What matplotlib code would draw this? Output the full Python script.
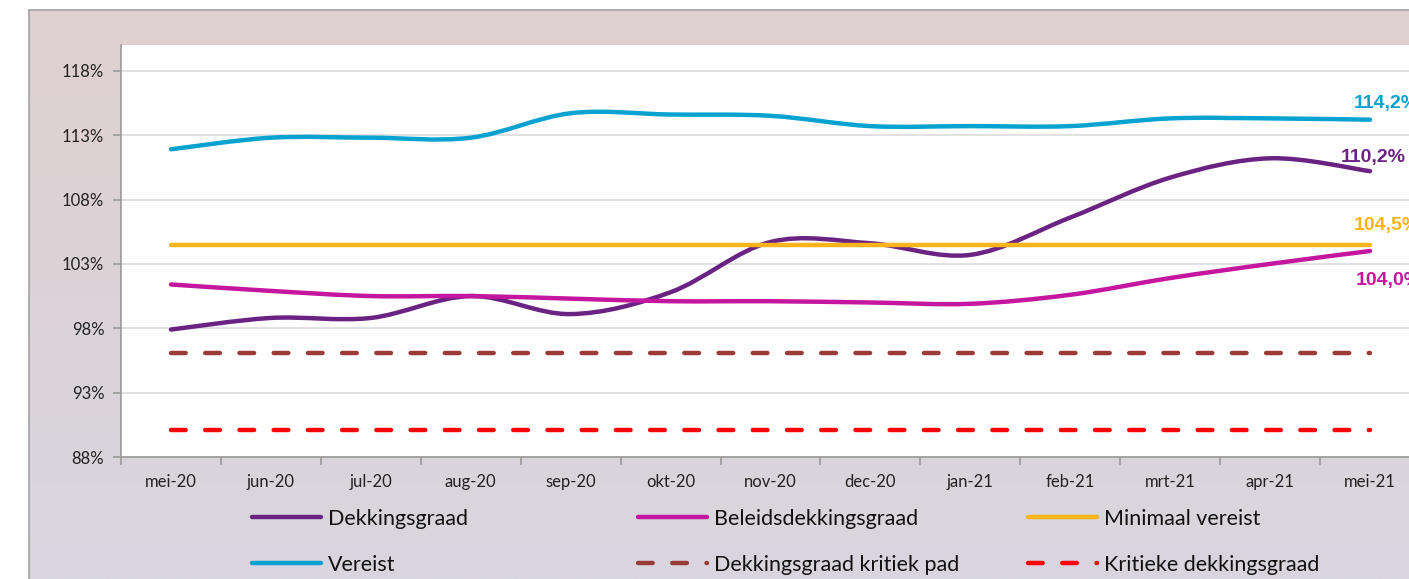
import numpy as np
import matplotlib
matplotlib.use("Agg")
import matplotlib.pyplot as plt
from matplotlib.path import Path
from matplotlib.patches import PathPatch
from matplotlib.lines import Line2D
from matplotlib.colors import LinearSegmentedColormap

# --- Data ---
months = ['mei-20', 'jun-20', 'jul-20', 'aug-20', 'sep-20', 'okt-20', 'nov-20',
          'dec-20', 'jan-21', 'feb-21', 'mrt-21', 'apr-21', 'mei-21']
dekkingsgraad = [97.9, 98.8, 98.8, 100.5, 99.1, 100.8, 104.7, 104.6, 103.7, 106.6, 109.7, 111.2, 110.2]
beleidsdekkingsgraad = [101.4, 100.9, 100.5, 100.5, 100.3, 100.1, 100.1, 100.0, 99.9, 100.6, 101.9, 103.0, 104.0]
minimaal_vereist = [104.5] * 13
vereist = [111.9, 112.8, 112.8, 112.8, 114.7, 114.6, 114.5, 113.7, 113.7, 113.7, 114.3, 114.3, 114.2]
kritiek_pad = [96.1] * 13
kritieke_dg = [90.1] * 13

C_DG = '#6b2383'
C_BDG = '#c4169f'
C_MIN = '#fbb41a'
C_VER = '#0aa2d1'
C_PAD = '#9b3b38'
C_KRIT = '#fe0000'

LW = 3.2
DASH = (0, (3.3, 4.4))


def smooth_path(xs, ys):
    """Cubic bezier path through every point (Excel style smoothing)."""
    pts = np.column_stack([xs, ys]).astype(float)
    n = len(pts)
    verts = [pts[0]]
    codes = [Path.MOVETO]
    for i in range(n - 1):
        p0 = pts[i - 1] if i > 0 else pts[i]
        p1 = pts[i]
        p2 = pts[i + 1]
        p3 = pts[i + 2] if i + 2 < n else pts[i + 1]
        c1 = p1 + (p2 - p0) / 6.0
        c2 = p2 - (p3 - p1) / 6.0
        verts += [c1, c2, p2]
        codes += [Path.CURVE4] * 3
    return Path(verts, codes)


fig = plt.figure(figsize=(14.09, 5.79), dpi=100)
fig.patch.set_facecolor('white')

# background panel with soft vertical gradient
bg = fig.add_axes([29 / 1409, 0, 1, 569 / 579])
grad = LinearSegmentedColormap.from_list('bg', ['#dfd0d0', '#d8d6df'])
bg.imshow(np.linspace(0, 1, 256).reshape(-1, 1), aspect='auto', cmap=grad,
          extent=[0, 1, 0, 1])
bg.set_xticks([])
bg.set_yticks([])
for side in ['right', 'bottom']:
    bg.spines[side].set_visible(False)
for side in ['left', 'top']:
    bg.spines[side].set_color('#a3a3a3')
    bg.spines[side].set_linewidth(1.2)

ax = fig.add_axes([121 / 1409, (579 - 457) / 579, 1299 / 1409, 412 / 579])
ax.set_facecolor('white')
x = np.arange(len(months))

for ys, col in [(vereist, C_VER), (dekkingsgraad, C_DG), (beleidsdekkingsgraad, C_BDG)]:
    ax.add_patch(PathPatch(smooth_path(x, ys), facecolor='none', edgecolor=col,
                           lw=LW, capstyle='round', joinstyle='round', zorder=3))
ax.plot(x, minimaal_vereist, color=C_MIN, lw=LW, solid_capstyle='round', zorder=3)
ax.plot(x, kritiek_pad, color=C_PAD, lw=LW, linestyle=DASH, dash_capstyle='round', zorder=3)
ax.plot(x, kritieke_dg, color=C_KRIT, lw=LW, linestyle=DASH, dash_capstyle='round', zorder=3)

# end values
lab_font = dict(fontsize=14, fontweight='bold', family='Liberation Sans',
                textcoords='offset pixels', annotation_clip=False)
ax.annotate('114,2%', (x[-1], vereist[-1]), xytext=(-16, 12), color=C_VER, **lab_font)
ax.annotate('110,2%', (x[-1], dekkingsgraad[-1]), xytext=(-29, 9), color=C_DG, **lab_font)
ax.annotate('104,5%', (x[-1], minimaal_vereist[-1]), xytext=(-16, 15), color=C_MIN, **lab_font)
ax.annotate('104,0%', (x[-1], beleidsdekkingsgraad[-1]), xytext=(-14, -34), color=C_BDG, **lab_font)

ax.set_xlim(-0.5, len(months) - 0.5)
ax.set_ylim(88, 120)
ax.set_yticks(np.arange(88, 119, 5))
ax.set_yticklabels([f'{v}%' for v in range(88, 119, 5)], family='Lato', fontsize=12,
                   color='#222222')
ax.set_xticks(x)
ax.set_xticklabels(months, family='Lato', fontsize=12, color='#222222')
ax.set_xticks(np.arange(-0.5, len(months), 1), minor=True)
ax.tick_params(axis='x', which='major', length=0, pad=12)
ax.tick_params(axis='x', which='minor', length=6, color='#9a9a9a', width=1.2)
ax.tick_params(axis='y', length=6, color='#9a9a9a', width=1.2, pad=6)
ax.grid(axis='y', color='#dcdcdc', lw=1.2)
ax.set_axisbelow(True)
for side in ['top', 'right']:
    ax.spines[side].set_visible(False)
for side in ['left', 'bottom']:
    ax.spines[side].set_color('#9a9a9a')
    ax.spines[side].set_linewidth(1.2)

# legend, three fixed columns
def proxy(col, dashed=False):
    if dashed:
        return Line2D([], [], color=col, lw=LW, linestyle=DASH, dash_capstyle='round')
    return Line2D([], [], color=col, lw=LW, solid_capstyle='round')

columns = [
    ([proxy(C_DG), proxy(C_VER)], ['Dekkingsgraad', 'Vereist'], 252),
    ([proxy(C_BDG), proxy(C_PAD, True)], ['Beleidsdekkingsgraad', 'Dekkingsgraad kritiek pad'], 638),
    ([proxy(C_MIN), proxy(C_KRIT, True)], ['Minimaal vereist', 'Kritieke dekkingsgraad'], 1028),
]
for handles, labels, xpix in columns:
    leg = fig.legend(handles, labels, loc='upper left',
                     bbox_to_anchor=(xpix / 1409, 1 - 509 / 579),
                     frameon=False, prop={'family': 'Lato', 'size': 15.5},
                     handlelength=3.2, handletextpad=0.35, labelspacing=1.2,
                     borderaxespad=0, borderpad=0)
    for t in leg.get_texts():
        t.set_color('#111111')

fig.savefig('out.png', dpi=100, facecolor=fig.get_facecolor())
